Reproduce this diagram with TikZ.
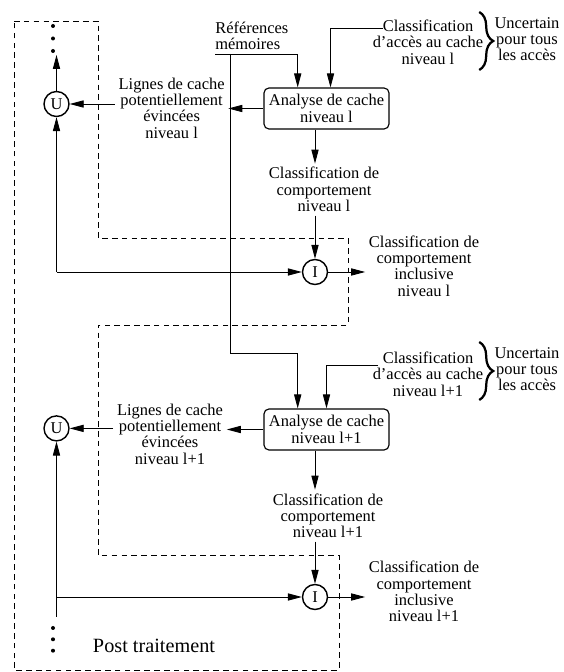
\documentclass[tikz,border=0pt]{standalone}
\usepackage{fontspec}
\setmainfont{Liberation Serif}
\usetikzlibrary{arrows.meta,decorations.pathreplacing}

\tikzset{
  txt/.style={align=center, inner sep=2.5pt, font=\fontsize{11.7}{11.6}\selectfont},
  cbox/.style={draw, rounded corners=3.5pt, line width=0.8pt, minimum width=3.125cm,
    minimum height=1.025cm, inner sep=0pt, align=center, font=\fontsize{11.7}{11.6}\selectfont},
  op/.style={draw, circle, line width=1pt, minimum size=0.625cm, inner sep=0pt,
    font=\fontsize{11.7}{11.6}\selectfont},
  flow/.style={-{Triangle[length=0.35cm,width=0.18cm]}, line width=0.6pt},
  frame/.style={dash pattern=on 4pt off 3pt, line width=0.6pt},
  accbrace/.style={decorate, decoration={brace, amplitude=0.35cm}, line width=1.6pt}
}

\begin{document}
\begin{tikzpicture}
  \useasboundingbox (0,0) rectangle (14.075,16.8);

  % Post traitement frame
  \draw[frame] (0.35,16.275) -- (2.45,16.275) -- (2.45,10.85) -- (8.7,10.85)
    -- (8.7,8.675) -- (2.45,8.675) -- (2.45,2.925) -- (8.475,2.925)
    -- (8.475,0.05) -- (0.35,0.05) -- cycle;
  \node[txt, font=\fontsize{14.4}{14}\selectfont] (post) at (3.85,0.65) {Post traitement};

  % union / intersection operators
  \node[op] (U1) at (1.4125,14.2) {U};
  \node[op] (U2) at (1.4125,6.09) {U};
  \node[op] (I1) at (7.875,10.0) {I};
  \node[op] (I2) at (7.875,1.875) {I};

  % cache analyses
  \node[cbox] (box1) at (8.1625,14.0875) {Analyse de cache\\niveau l};
  \node[cbox] (box2) at (8.1625,6.0625) {Analyse de cache\\niveau l+1};

  % texts
  \node[txt, anchor=south west, align=left, inner xsep=0pt, inner ysep=3pt] (refs)
    at (5.375,15.45) {Références\\mémoires};
  \node[txt] (lig1) at (4.29,14.1) {Lignes de cache\\potentiellement\\évincées\\niveau l};
  \node[txt] (lig2) at (4.25,5.95) {Lignes de cache\\potentiellement\\évincées\\niveau l+1};
  \node[txt] (beh1) at (8.1,12.06) {Classification de\\comportement\\niveau l};
  \node[txt] (beh2) at (8.2,3.91) {Classification de\\comportement\\niveau l+1};
  \node[txt] (incl1) at (10.6,10.15) {Classification de\\comportement\\inclusive\\niveau l};
  \node[txt] (incl2) at (10.6,2.0125) {Classification de\\comportement\\inclusive\\niveau l+1};
  \node[txt] (acc1) at (10.7,15.75) {Classification\\d’accès au cache\\niveau l};
  \node[txt] (acc2) at (10.7,7.45) {Classification\\d’accès au cache\\niveau l+1};
  \node[txt] (unc1) at (13.175,15.825) {Uncertain\\pour tous\\les accès};
  \node[txt] (unc2) at (13.175,7.575) {Uncertain\\pour tous\\les accès};

  % braces
  \draw[accbrace] (11.98,16.5) -- (11.98,15.05);
  \draw[accbrace] (11.98,8.25) -- (11.98,6.8);

  % free ends
  \coordinate (a1) at (9.575,16.09);
  \coordinate (a2) at (9.45,7.6675);
  \coordinate (rsplit) at ([xshift=0.39cm]refs.south west);
  \coordinate (topend) at (1.4125,15.425);
  \coordinate (botend) at (1.4125,1.38);
  \coordinate (j1) at (U1 |- I1);
  \coordinate (j2) at (U2 |- I2);

  % dots
  \foreach \y in {16.15,15.8375,15.525,1.1,0.8175,0.5325}
    \fill (1.325,\y) circle (0.05);

  % inputs of the analyses
  \draw[flow] (refs.south west) -| ([xshift=-0.72cm]box1.north);
  \draw[flow] (rsplit) |- ([xshift=-0.72cm,yshift=1.375cm]box2.north) -- ([xshift=-0.72cm]box2.north);
  \draw[flow] (a1) -| ([xshift=0.1cm]box1.north);
  \draw[flow] (a2) -| (box2.north);

  % level l
  \draw[flow] (box1) -- (lig1.east |- box1);
  \draw[flow] (lig1.west |- U1) -- (U1);
  \draw[flow] (U1) -- (topend);
  \draw[flow] (box1.south -| I1) -- (beh1.north -| I1);
  \draw[flow] (beh1.south -| I1) -- (I1);
  \draw[flow] (j1) -- (U1);
  \draw[flow] (j1) -- (I1);
  \draw[flow] (I1) -- (incl1.west |- I1);

  % level l+1
  \draw[flow] (box2) -- (lig2.east |- box2);
  \draw[flow] (lig2.west |- U2) -- (U2);
  \draw[flow] (box2.south -| I2) -- (beh2.north -| I2);
  \draw[flow] (beh2.south -| I2) -- (I2);
  \draw[flow] (botend) -- (U2);
  \draw[flow] (j2) -- (I2);
  \draw[flow] (I2) -- (incl2.west |- I2);
\end{tikzpicture}
\end{document}
